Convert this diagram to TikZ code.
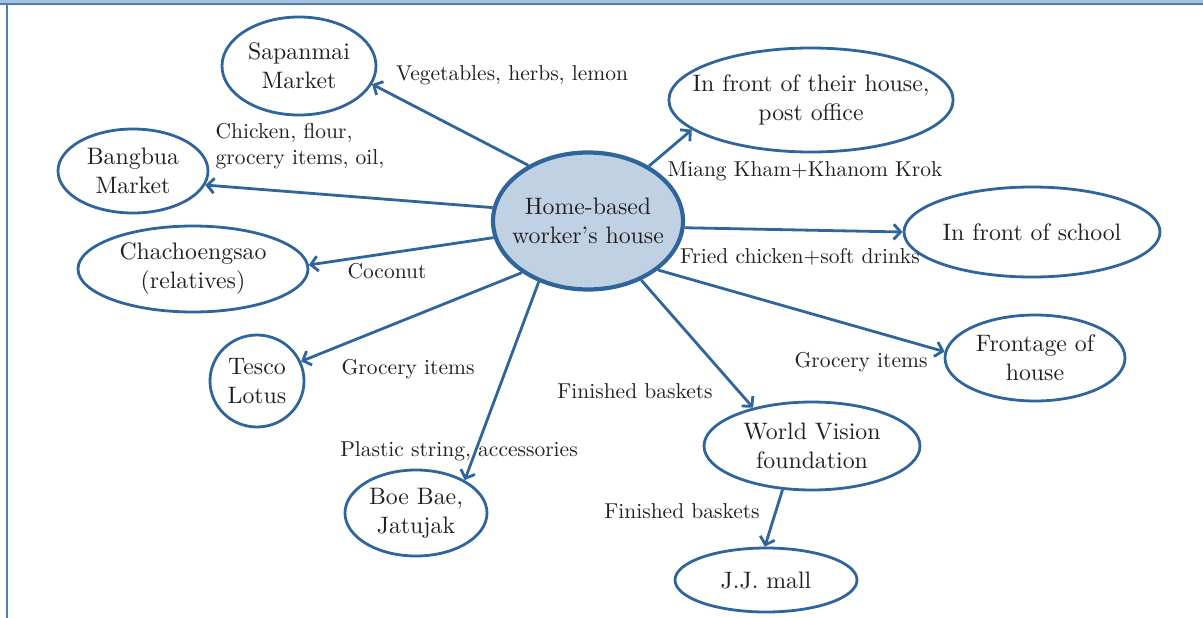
\documentclass[tikz,border=0pt]{standalone}
\usepackage{fontspec}
\setmainfont{lmroman10-regular}[Extension=.otf]
\usetikzlibrary{shapes.geometric,arrows.meta}
\definecolor{edge}{HTML}{30659B}
\definecolor{homefill}{HTML}{C1D1E4}
\definecolor{txt}{HTML}{231F20}
\definecolor{band}{HTML}{A9C0DC}
\definecolor{frame}{HTML}{4F7FB8}
\tikzset{
  place/.style={ellipse, draw=edge, line width=2.8pt, inner sep=0pt, align=center,
    text=txt, font=\fontsize{23.8}{29}\selectfont},
  home/.style={place, fill=homefill, line width=4.2pt},
  flow/.style={draw=edge, line width=2.8pt, -{Straight Barb[length=7pt,width=15pt,line width=2.8pt]}},
  lbl/.style={text=txt, font=\fontsize{21.5}{26}\selectfont, inner sep=0pt, align=left}
}
\begin{document}
\begin{tikzpicture}[x=1pt,y=-1pt]
\useasboundingbox (0,0) rectangle (1203,618);
% frame
\fill[band] (0,0) rectangle (1203,3.5);
\draw[frame, line width=1.6pt] (0,4) -- (1203,4);
\draw[frame, line width=1.6pt] (7,4) -- (7,618);
% nodes
\node[home, inner xsep=-9pt, inner ysep=-2pt, minimum width=190pt, minimum height=137pt] (h) at (588,221) {Home-based\\worker’s house};
\node[place, minimum width=154pt, minimum height=98pt] (sap) at (299,66) {Sapanmai\\Market};
\node[place, minimum width=150pt, minimum height=84pt] (bang) at (133,171) {Bangbua\\Market};
\node[place, inner xsep=-4pt, minimum width=230pt, minimum height=86pt] (chac) at (193,269) {Chachoengsao\\(relatives)};
\node[place, minimum width=94pt, minimum height=92pt] (tes) at (257,381) {Tesco\\Lotus};
\node[place, minimum width=142pt, minimum height=86pt] (boe) at (416,513) {Boe Bae,\\Jatujak};
\node[place, inner xsep=-18pt, inner ysep=-2pt, minimum width=284pt, minimum height=104pt] (post) at (811,100) {In front of their house,\\post office};
\node[place, minimum width=256pt, minimum height=90pt] (sch) at (1032,232) {In front of school};
\node[place, minimum width=180pt, minimum height=86pt] (front) at (1035,358) {Frontage of\\house};
\node[place, minimum width=216pt, minimum height=88pt] (wv) at (812,446) {World Vision\\foundation};
\node[place, minimum width=182pt, minimum height=64pt] (jj) at (766,580) {J.J. mall};
% connectors
\draw[flow] (h.137) -- (sap.-14);
\draw[flow] (h.172) -- (bang.-11);
\draw[flow] (h.190) -- (chac.2);
\draw[flow] (h.218) -- (tes.24);
\draw[flow] (h.231) -- (boe.34);
\draw[flow] (h.42) -- (post.194);
\draw[flow] (h.-4) -- (sch.180);
\draw[flow] (h.-35) -- (front.176);
\draw[flow] (h.-48) -- (wv.147);
\draw[flow] (wv.236) -- (jj.92);
% labels
\node[lbl] (l1) at (512,75) {Vegetables, herbs, lemon};
\node[lbl] (l2) at (300,146) {Chicken, flour,\\grocery items, oil,};
\node[lbl] (l3) at (805,171) {Miang Kham+Khanom Krok};
\node[lbl] (l4) at (800,257) {Fried chicken+soft drinks};
\node[lbl] (l5) at (387,271) {Coconut};
\node[lbl] (l6) at (408,369) {Grocery items};
\node[lbl] (l7) at (861,362) {Grocery items};
\node[lbl] (l8) at (635,391) {Finished baskets};
\node[lbl] (l9) at (459,451) {Plastic string, accessories};
\node[lbl] (l10) at (682,511) {Finished baskets};
\end{tikzpicture}
\end{document}
